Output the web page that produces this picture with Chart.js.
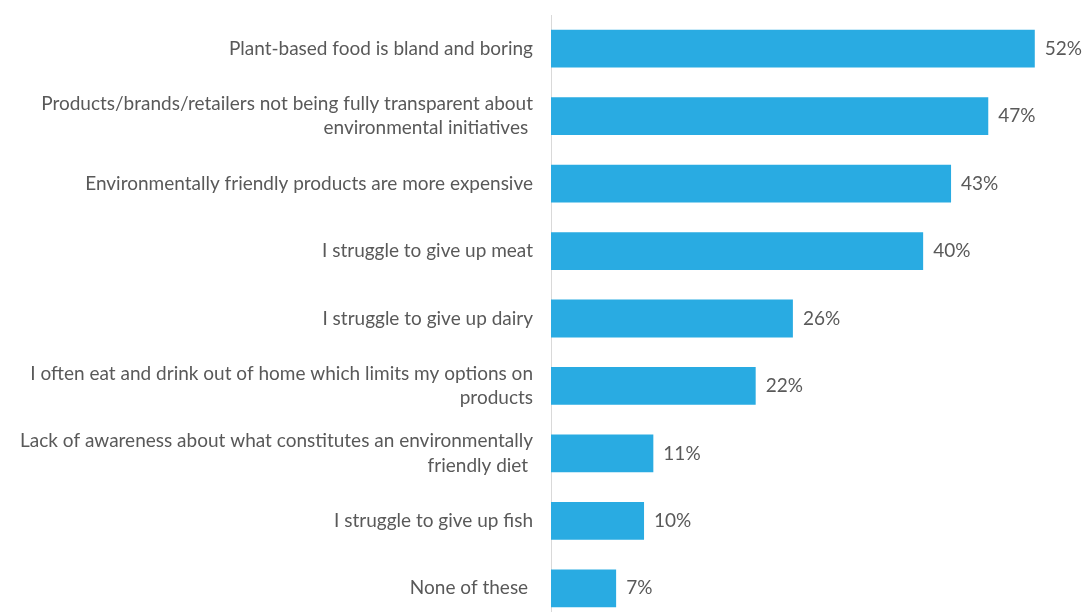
<!DOCTYPE html>
<html>
<head>
<meta charset="utf-8">
<script src="https://cdn.jsdelivr.net/npm/chart.js@4.4.1/dist/chart.umd.min.js"></script>
<style>
    html, body { margin: 0; padding: 0; background: #fff; overflow: hidden; }
    #wrap { position: relative; width: 1086px; height: 622px; }
</style>
</head>
<body>
<div id="wrap"><canvas id="barriers"></canvas></div>
<script>
// answer options (multi-line ones split into arrays)
const categories = [
    'Plant-based food is bland and boring',
    ['Products/brands/retailers not being fully transparent about', 'environmental initiatives '],
    'Environmentally friendly products are more expensive',
    'I struggle to give up meat',
    'I struggle to give up dairy',
    ['I often eat and drink out of home which limits my options on', 'products'],
    ['Lack of awareness about what constitutes an environmentally', 'friendly diet '],
    'I struggle to give up fish',
    'None of these '
];

// share of respondents, %
const shares = [52, 47, 43, 40, 26, 22, 11, 10, 7];

const barColor = '#29abe2';
const textColor = '#595959';
const labelFont = { family: 'Lato', size: 19, lineHeight: 1.27 };

// writes "NN%" just past the end of each bar
const valueLabels = {
    id: 'valueLabels',
    afterDatasetsDraw(chart) {
        const ctx = chart.ctx;
        const meta = chart.getDatasetMeta(0);
        ctx.save();
        ctx.font = labelFont.size + 'px ' + labelFont.family;
        ctx.fillStyle = textColor;
        ctx.textAlign = 'left';
        ctx.textBaseline = 'middle';
        meta.data.forEach((bar, i) => {
            ctx.fillText(shares[i] + '%', bar.x + 10, bar.y);
        });
        ctx.restore();
    }
};

new Chart(document.getElementById('barriers'), {
    type: 'bar',
    data: {
        labels: categories,
        datasets: [{
            data: shares,
            backgroundColor: barColor,
            borderWidth: 0,
            categoryPercentage: 0.56,
            barPercentage: 1
        }]
    },
    options: {
        indexAxis: 'y',
        responsive: true,
        maintainAspectRatio: false,
        animation: false,
        layout: { padding: { top: 15, right: 14, bottom: 0, left: 0 } },
        plugins: {
            legend: { display: false },
            tooltip: { enabled: false }
        },
        scales: {
            x: {
                min: 0,
                max: 56,
                display: false
            },
            y: {
                afterFit(scale) {
                    // fixed label column; no extra room for the first/last label
                    scale.width = 551;
                    scale.paddingTop = 0;
                    scale.paddingBottom = 0;
                },
                grid: { display: false, drawTicks: false },
                border: { display: true, color: '#d9d9d9', width: 1 },
                ticks: {
                    padding: 18,
                    color: textColor,
                    font: labelFont,
                    autoSkip: false
                }
            }
        }
    },
    plugins: [valueLabels]
});
</script>
</body>
</html>
